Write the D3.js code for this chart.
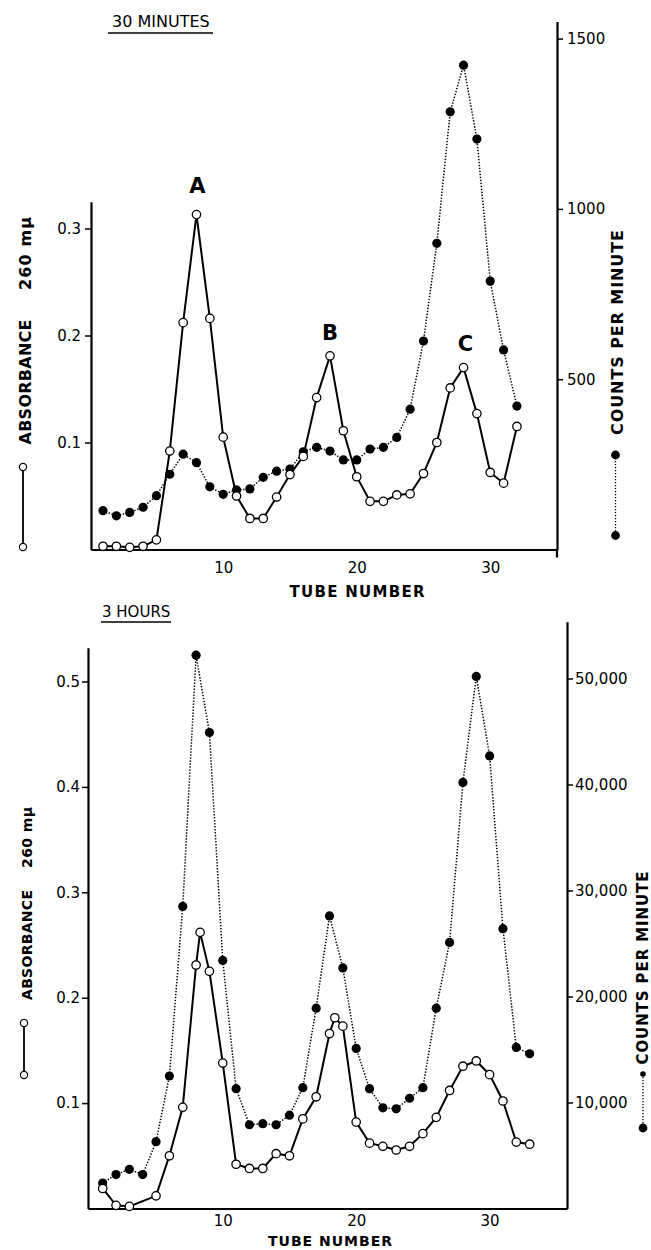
<!DOCTYPE html>
<html><head><meta charset="utf-8">
<script src="https://cdn.jsdelivr.net/npm/d3@7"></script>
<style>body{margin:0;background:#fff}svg{display:block}</style>
</head><body>
<svg id="c" width="651" height="1250"></svg>
<script>
// ---------- DATA ----------
// Panel 1: 30 minutes
const topTubes = [1,2,3,4,5,6,7,8,9,10,11,12,13,14,15,16,17,18,19,20,21,22,23,24,25,26,27,28,29,30,31,32];
const topAbsorbance = [0.003,0.003,0.002,0.003,0.009,0.092,0.212,0.313,0.216,0.105,0.050,0.029,0.029,0.049,0.070,0.087,0.142,0.181,0.111,0.068,0.045,0.045,0.051,0.052,0.071,0.100,0.151,0.170,0.127,0.072,0.062,0.115];
const topCounts = [114,99,109,124,158,221,280,255,184,162,175,178,212,230,236,287,300,289,263,263,295,300,329,412,612,899,1285,1422,1205,788,586,421];
const topLeftTicks = [0.1,0.2,0.3];
const topRightTicks = [500,1000,1500];
const topPeakLabels = ["A","B","C"];
const topPeakTubes = [8,18,28];

// Panel 2: 3 hours
const botAbsTubes = [1,2,3,5,6,7,8,8.3,9,10,11,12,13,14,15,16,17,18,18.4,19,20,21,22,23,24,25,26,27,28,29,30,31,32,33];
const botAbsorbance = [0.019,0.003,0.002,0.012,0.050,0.096,0.231,0.262,0.225,0.138,0.042,0.038,0.038,0.052,0.050,0.085,0.106,0.166,0.181,0.173,0.082,0.062,0.059,0.0555,0.059,0.071,0.0865,0.112,0.135,0.140,0.127,0.102,0.063,0.061];
const botCountTubes = [1,2,3,4,5,6,7,8,9,10,11,12,13,14,15,16,17,18,19,20,21,22,23,24,25,26,27,28,29,30,31,32,33];
const botCounts = [2400,3200,3700,3200,6300,12500,28500,52200,44900,23400,11300,7900,8000,7900,8800,11400,18900,27600,22700,15100,11300,9500,9400,10400,11400,18900,25100,40200,50200,42700,26400,15200,14600];
const botLeftTicks = [0.1,0.2,0.3,0.4,0.5];
const botRightTicks = [10000,20000,30000,40000,50000];

const xTicks = [10,20,30];
const xLabel = "TUBE NUMBER";
const leftLabelA = "ABSORBANCE";
const leftLabelB = "260 mμ";
const rightLabel = "COUNTS PER MINUTE";

// ---------- DRAW ----------
const svg = d3.select("#c");
const FONT = "DejaVu Sans, Liberation Sans, sans-serif";

function drawPanel(p) {
  const g = svg.append("g");
  const x = d3.scaleLinear().domain(p.xDom).range(p.xRange);
  const yL = d3.scaleLinear().domain(p.yLDom).range(p.yRange);
  const yR = d3.scaleLinear().domain(p.yRDom).range(p.yRRange);
  const base = p.yRange[0];

  // title
  g.append("text").attr("x", p.title.x).attr("y", p.title.y)
    .attr("font-family", FONT).attr("font-size", p.title.size).text(p.title.text);
  g.append("line").attr("x1", p.title.ux1).attr("x2", p.title.ux2)
    .attr("y1", p.title.uy).attr("y2", p.title.uy).attr("stroke", "#000").attr("stroke-width", 1.6);

  // axes
  const axL = d3.axisLeft(yL).tickValues(p.leftTicks).tickSize(6).tickSizeOuter(0).tickPadding(p.tickPad)
    .tickFormat(d3.format(".1f"));
  const gL = g.append("g").attr("transform", `translate(${p.xRange[0]},0)`).call(axL);
  const axR = d3.axisRight(yR).tickValues(p.rightTicks).tickSize(6).tickSizeOuter(0).tickPadding(p.tickPad)
    .tickFormat(p.rightFmt);
  const gR = g.append("g").attr("transform", `translate(${p.xRange[1]},0)`).call(axR);
  const axB = d3.axisBottom(x).tickValues(xTicks).tickSize(0).tickSizeOuter(0).tickPadding(p.xPad)
    .tickFormat(d3.format("d"));
  const gB = g.append("g").attr("transform", `translate(0,${base})`).call(axB);
  [gL, gR, gB].forEach(a => {
    a.select(".domain").attr("stroke-width", 2.2);
    a.selectAll(".tick line").attr("stroke-width", 1.5);
    a.selectAll("text").attr("font-family", FONT).attr("font-size", 15).attr("fill", "#000");
  });
  // right axis extends slightly below base line
  g.append("line").attr("x1", p.xRange[1]).attr("x2", p.xRange[1])
    .attr("y1", base).attr("y2", base + p.rExt).attr("stroke", "#000").attr("stroke-width", 2.2);

  // x label
  g.append("text").attr("x", p.xLab.x).attr("y", p.xLab.y).attr("text-anchor", "middle")
    .attr("font-family", FONT).attr("font-weight", "bold").attr("font-size", p.xLab.size)
    .attr("textLength", p.xLab.len).attr("lengthAdjust", "spacing").text(xLabel);

  // counts (dotted)
  const cData = p.countTubes.map((t, i) => [t, p.counts[i]]);
  g.append("path").datum(cData)
    .attr("d", d3.line().x(d => x(d[0])).y(d => yR(d[1])))
    .attr("fill", "none").attr("stroke", "#000").attr("stroke-width", 1.5).attr("stroke-dasharray", "1.4,1.6");
  // absorbance (solid)
  const aData = p.absTubes.map((t, i) => [t, p.abs[i]]);
  g.append("path").datum(aData)
    .attr("d", d3.line().x(d => x(d[0])).y(d => yL(d[1])))
    .attr("fill", "none").attr("stroke", "#000").attr("stroke-width", 2);
  g.selectAll(".fc").data(cData).enter().append("circle")
    .attr("cx", d => x(d[0])).attr("cy", d => yR(d[1])).attr("r", 4.6).attr("fill", "#000");
  g.selectAll(".oc").data(aData).enter().append("circle")
    .attr("cx", d => x(d[0])).attr("cy", d => yL(d[1])).attr("r", 4.2)
    .attr("fill", "#fff").attr("stroke", "#000").attr("stroke-width", 1.3);

  // peak labels
  if (p.peaks) {
    p.peaks.labels.forEach((lab, i) => {
      const t = p.peaks.tubes[i];
      const v = p.abs[p.absTubes.indexOf(t)];
      g.append("text").attr("x", x(t) + p.peaks.dx[i]).attr("y", yL(v) - p.peaks.dy[i])
        .attr("text-anchor", "middle").attr("font-family", FONT).attr("font-weight", "bold")
        .attr("font-size", 21).text(lab);
    });
  }

  // left rotated label + legend
  const L = p.leftLab;
  g.append("text").attr("transform", `translate(${L.x},${L.cA}) rotate(-90)`).attr("text-anchor", "middle")
    .attr("font-family", FONT).attr("font-weight", "bold").attr("font-size", L.size)
    .attr("textLength", L.lenA).attr("lengthAdjust", "spacing").text(leftLabelA);
  g.append("text").attr("transform", `translate(${L.x},${L.cB}) rotate(-90)`).attr("text-anchor", "middle")
    .attr("font-family", FONT).attr("font-weight", "bold").attr("font-size", L.size)
    .attr("textLength", L.lenB).attr("lengthAdjust", "spacing").text(leftLabelB);
  g.append("line").attr("x1", L.lx).attr("x2", L.lx).attr("y1", L.l1).attr("y2", L.l2)
    .attr("stroke", "#000").attr("stroke-width", 1.8);
  [L.l1, L.l2].forEach(yy => g.append("circle").attr("cx", L.lx).attr("cy", yy).attr("r", 3.6)
    .attr("fill", "#fff").attr("stroke", "#000").attr("stroke-width", 1.2));

  // right rotated label + legend
  const R = p.rightLab;
  g.append("text").attr("transform", `translate(${R.x},${R.c}) rotate(-90)`).attr("text-anchor", "middle")
    .attr("font-family", FONT).attr("font-weight", "bold").attr("font-size", R.size)
    .attr("textLength", R.len).attr("lengthAdjust", "spacing").text(rightLabel);
  g.append("line").attr("x1", R.lx).attr("x2", R.lx).attr("y1", R.l1).attr("y2", R.l2)
    .attr("stroke", "#000").attr("stroke-width", 1.3).attr("stroke-dasharray", "1.3,1.7");
  g.append("circle").attr("cx", R.lx).attr("cy", R.l1).attr("r", R.r1).attr("fill", "#000");
  g.append("circle").attr("cx", R.lx).attr("cy", R.l2).attr("r", 4.4).attr("fill", "#000");
}

drawPanel({
  xDom: [0.1, 35], xRange: [91, 557],
  yLDom: [0, 0.325], yRange: [549.5, 201.75],
  yRDom: [0, 1550], yRRange: [549.5, 21.6],
  leftTicks: topLeftTicks, rightTicks: topRightTicks, rightFmt: d3.format("d"),
  tickPad: 4, xPad: 13, rExt: 8,
  absTubes: topTubes, abs: topAbsorbance, countTubes: topTubes, counts: topCounts,
  title: {text: "30 MINUTES", x: 112, y: 27, size: 16, ux1: 108, ux2: 213, uy: 33},
  xLab: {x: 357, y: 597, len: 135, size: 15},
  peaks: {labels: topPeakLabels, tubes: topPeakTubes, dx: [1, 0, 2], dy: [22, 16, 17]},
  leftLab: {x: 31, size: 16, cA: 382, lenA: 125, cB: 253.5, lenB: 73, lx: 23, l1: 467, l2: 547},
  rightLab: {x: 623, size: 16, c: 332.5, len: 205, lx: 615.5, l1: 455, l2: 535.5, r1: 4.4}
});

drawPanel({
  xDom: [-0.1, 35.8], xRange: [88, 567],
  yLDom: [0, 0.532], yRange: [1208.5, 647.8],
  yRDom: [0, 55350], yRRange: [1208.5, 621.8],
  leftTicks: botLeftTicks, rightTicks: botRightTicks, rightFmt: d3.format(","),
  tickPad: 2, xPad: 7, rExt: 0,
  absTubes: botAbsTubes, abs: botAbsorbance, countTubes: botCountTubes, counts: botCounts,
  title: {text: "3 HOURS", x: 102, y: 617, size: 15, ux1: 101, ux2: 171, uy: 622},
  xLab: {x: 330, y: 1246, len: 124, size: 14},
  peaks: null,
  leftLab: {x: 32, size: 14, cA: 945, lenA: 110, cB: 837.5, lenB: 61, lx: 24, l1: 1023, l2: 1075},
  rightLab: {x: 648, size: 15, c: 968, len: 193, lx: 643, l1: 1074, l2: 1128, r1: 2.8}
});
</script>
</body></html>
